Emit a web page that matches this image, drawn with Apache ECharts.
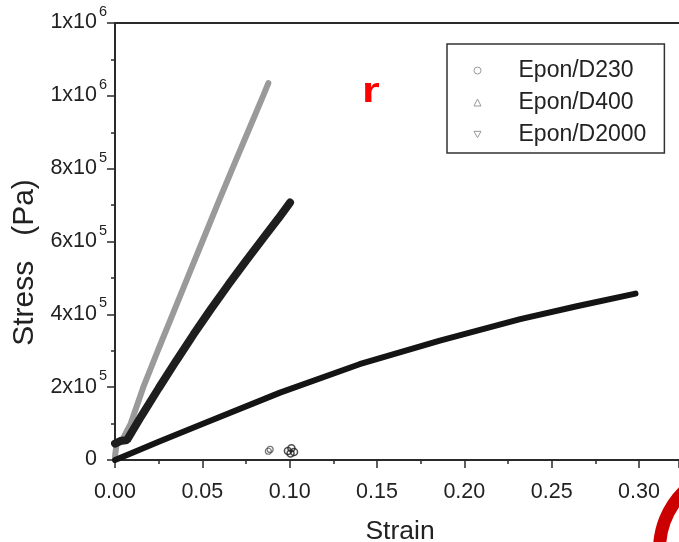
<!DOCTYPE html>
<html>
<head>
<meta charset="utf-8">
<style>html,body{margin:0;padding:0;background:#fff;}#c{width:679px;height:542px;}</style>
<script src="https://cdn.jsdelivr.net/npm/echarts@6/dist/echarts.min.js"></script>
</head>
<body>
<div id="c"></div>
<script>
// ---- data (strain, stress in Pa) ----
var seriesNames = ['Epon/D230', 'Epon/D400', 'Epon/D2000'];
var d230 = [[0,10000],[0.001,48000],[0.0042,55000],[0.009,100000],[0.0162,200000],[0.0245,300000],[0.033,400000],[0.0415,500000],[0.050,600000],[0.0585,700000],[0.0672,800000],[0.076,900000],[0.0848,1000000],[0.0878,1035000]];
var d400 = [[0,45000],[0.003,52000],[0.0069,55000],[0.015,120000],[0.025,197000],[0.035,272000],[0.045,345000],[0.055,415000],[0.065,482000],[0.075,547000],[0.085,610000],[0.0935,663000],[0.1002,707000]];
var d2000 = [[0,0],[0.01,20000],[0.025,50000],[0.05,99000],[0.0945,185000],[0.14,263000],[0.186,328000],[0.232,387000],[0.265,423000],[0.298,457000]];
var d230Break = [[0.0878,24000],[0.0888,29000]];
var d400Break = [[0.099,25000],[0.101,32000],[0.1025,22000],[0.1005,18000]];
var xTickLabels = ['0.00','0.05','0.10','0.15','0.20','0.25','0.30'];
var yTickBase = ['0','2x10','4x10','6x10','8x10','1x10','1x10'];
var yTickExp = ['','5','5','5','5','6','6'];

var FONT = 'Liberation Sans';
var chart = echarts.init(document.getElementById('c'), null, {renderer: 'canvas'});
var axisCol = '#2a2a2a';

chart.setOption({
  animation: false,
  backgroundColor: '#fff',
  grid: {left: 115, right: 0, top: 23, bottom: 82, containLabel: false, outerBoundsMode: 'none'},
  legend: {
    orient: 'vertical', left: 447, top: 44,
    padding: [15, 18, 7, 26.5], itemGap: 9, itemWidth: 7, itemHeight: 7,
    borderColor: '#333', borderWidth: 1.5, backgroundColor: '#fff',
    textStyle: {fontSize: 23, color: '#222', fontFamily: FONT, padding: [0, 0, 0, 32.5]},
    itemStyle: {color: '#fff', borderColor: '#999', borderWidth: 1},
    lineStyle: {opacity: 0, width: 0},
    data: [
      {name: seriesNames[0], icon: 'circle'},
      {name: seriesNames[1], icon: 'triangle'},
      {name: seriesNames[2], icon: 'path://M0,0L10,0L5,9Z'}
    ]
  },
  xAxis: [{
    type: 'value', min: 0, max: 0.3229, interval: 0.05,
    name: 'Strain', nameLocation: 'middle', nameGap: 58,
    nameTextStyle: {fontSize: 26.5, color: '#222', fontFamily: FONT, padding: [0, 0, 0, 6]},
    axisLine: {show: true, lineStyle: {color: axisCol, width: 2}},
    axisTick: {show: true, length: 8, lineStyle: {color: axisCol, width: 1.5}},
    minorTick: {show: true, splitNumber: 2, length: 4, lineStyle: {color: axisCol, width: 1.5}},
    splitLine: {show: false},
    axisLabel: {
      margin: 21, fontSize: 21.5, color: '#222', fontFamily: FONT,
      formatter: function (v) {
        var k = Math.round(v / 0.05);
        if (Math.abs(v - k * 0.05) > 1e-6) return '';
        return xTickLabels[k] || '';
      }
    }
  }, {
    type: 'value', position: 'top', min: 0, max: 0.3229,
    axisLine: {show: true, lineStyle: {color: axisCol, width: 2}},
    axisTick: {show: false}, axisLabel: {show: false}, splitLine: {show: false}
  }],
  yAxis: {
    type: 'value', min: 0, max: 1200000, interval: 200000,
    name: 'Stress   (Pa)', nameLocation: 'middle', nameGap: 70, nameRotate: 90,
    nameTextStyle: {fontSize: 30, color: '#222', fontFamily: FONT, padding: [0, 42, 0, 0]},
    axisLine: {show: true, lineStyle: {color: axisCol, width: 2}},
    axisTick: {show: true, length: 8, lineStyle: {color: axisCol, width: 1.5}},
    minorTick: {show: true, splitNumber: 2, length: 4, lineStyle: {color: axisCol, width: 1.5}},
    splitLine: {show: false},
    axisLabel: {
      margin: 8,
      formatter: function (v) {
        var k = Math.round(v / 200000);
        return '{b|' + yTickBase[k] + '}{s|' + (yTickExp[k] || ' ') + '}';
      },
      rich: {
        b: {fontSize: 21.5, lineHeight: 21, color: '#222', fontFamily: FONT, verticalAlign: 'bottom'},
        s: {fontSize: 14.5, lineHeight: 14, width: 10, color: '#222', fontFamily: FONT, verticalAlign: 'bottom', padding: [0, 0, 14, 0]}
      }
    }
  },
  series: [{
    name: seriesNames[0], type: 'line', data: d230, showSymbol: false, symbol: 'circle',
    lineStyle: {color: '#9a9a9a', width: 6, cap: 'round'}, itemStyle: {color: '#9a9a9a'}, z: 3
  }, {
    name: seriesNames[1], type: 'line', data: d400, showSymbol: false, symbol: 'triangle',
    lineStyle: {color: '#1e1e1e', width: 8, cap: 'round'}, itemStyle: {color: '#1e1e1e'}, z: 4
  }, {
    name: seriesNames[2], type: 'line', data: d2000, showSymbol: false, symbol: 'triangle',
    lineStyle: {color: '#141414', width: 6, cap: 'round'}, itemStyle: {color: '#141414'}, z: 5
  }, {
    name: 'b230', type: 'scatter', data: d230Break, symbol: 'circle', symbolSize: 6,
    itemStyle: {color: 'rgba(255,255,255,0)', borderColor: '#555', borderWidth: 1.2}, z: 6
  }, {
    name: 'b400', type: 'scatter', data: d400Break, symbol: 'circle', symbolSize: 7,
    itemStyle: {color: 'rgba(255,255,255,0)', borderColor: '#222', borderWidth: 1.5}, z: 6
  }],
  graphic: [{
    type: 'text', left: 362, top: 75, z: 100, scaleX: 1.3,
    style: {text: 'r', fill: '#ff0000', font: 'bold 35px "Liberation Sans Narrow", "Liberation Sans"'}
  }, {
    type: 'circle', z: 100,
    shape: {cx: 742, cy: 550, r: 82.5},
    style: {fill: 'none', stroke: '#cc0000', lineWidth: 13}
  }]
});
</script>
</body>
</html>
